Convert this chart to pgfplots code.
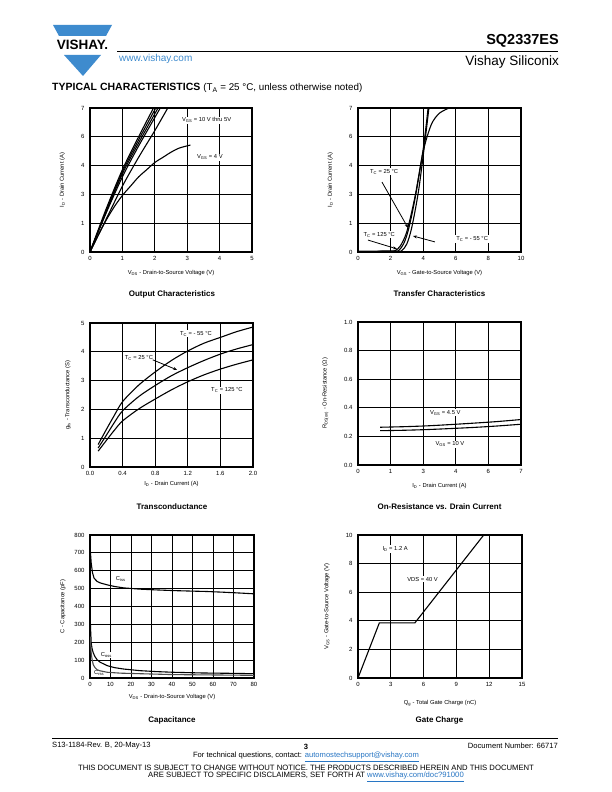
\documentclass[border=0pt]{standalone}
\usepackage{pgfplots}
\pgfplotsset{compat=1.18}
\usepackage{fontspec}
\setmainfont{Liberation Sans}
\usetikzlibrary{arrows.meta}
\definecolor{vishayblue}{RGB}{62,139,206}
\definecolor{linkblue}{RGB}{40,118,196}
\newcommand{\ann}{\fontsize{5.8}{7}\selectfont}
\pgfplotsset{
  vs/.style={scale only axis, anchor=south west,
    axis line style={line width=1.1pt},
    grid=major, major grid style={black, line width=0.8pt},
    major tick length=0pt,
    tick label style={font=\fontsize{6}{7}\selectfont},
    label style={font=\fontsize{5.8}{7}\selectfont},
    /pgf/number format/assume math mode=true,
    xticklabel style={yshift=-1pt},
    yticklabel style={xshift=-2pt},
    cycle list={black,solid,line width=1.1pt,mark=none,smooth\\},
    clip=true},
}
\begin{document}
\begin{tikzpicture}[x=1pt,y=1pt]
\useasboundingbox (0,0) rectangle (612,792);
\fill[white] (0,0) rectangle (612,792);
% ---------- header ----------
\fill[vishayblue] (53,767) -- (112,767) -- (106,756) -- (59,756) -- cycle;
\fill[vishayblue] (64,737) -- (101,737) -- (83,716) -- cycle;
\node[font=\fontsize{13.5}{13.5}\selectfont\bfseries, inner sep=0] at (82.5,747) {VISHAY.};
\node[anchor=west, font=\fontsize{10}{11}\selectfont, text=vishayblue, inner sep=0] at (119,733) {www.vishay.com};
\draw[line width=0.8pt] (117,741) -- (558,741);
\node[anchor=east, font=\fontsize{14.5}{15}\selectfont\bfseries, inner sep=0] at (559,751) {SQ2337ES};
\node[anchor=east, font=\fontsize{13.5}{14}\selectfont, inner sep=0] at (559,730) {Vishay Siliconix};
\node[anchor=west, inner sep=0] at (52,704) {\fontsize{10.5}{11}\selectfont\textbf{TYPICAL CHARACTERISTICS} \fontsize{9.8}{11}\selectfont(T\textsubscript{A} = 25 °C, unless otherwise noted)};
% ---------- footer ----------
\draw[line width=0.8pt] (52,54) -- (558,54);
\node[anchor=west, font=\fontsize{7.6}{8}\selectfont, inner sep=0] at (52,46) {S13-1184-Rev. B, 20-May-13};
\node[font=\fontsize{7.6}{8}\selectfont\bfseries, inner sep=0] at (306,45.5) {3};
\node[anchor=east, font=\fontsize{7.6}{8}\selectfont, inner sep=0] at (558,46) {Document Number: 66717};
\node[font=\fontsize{7.6}{8}\selectfont, inner sep=0] at (306,35) {For technical questions, contact: \textcolor{linkblue}{\underline{automostechsupport@vishay.com}}};
\node[font=\fontsize{7.7}{8}\selectfont, inner sep=0] at (306,24) {THIS DOCUMENT IS SUBJECT TO CHANGE WITHOUT NOTICE. THE PRODUCTS DESCRIBED HEREIN AND THIS DOCUMENT};
\node[font=\fontsize{7.7}{8}\selectfont, inner sep=0] at (306,15) {ARE SUBJECT TO SPECIFIC DISCLAIMERS, SET FORTH AT \textcolor{linkblue}{\underline{www.vishay.com/doc?91000}}};
% ---------- chart titles ----------
\begin{scope}[every node/.style={font=\fontsize{8}{9}\selectfont\bfseries}]
\node at (172,498) {Output Characteristics};
\node at (439.5,498) {Transfer Characteristics};
\node at (172,285) {Transconductance};
\node at (439.5,285) {On-Resistance vs. Drain Current};
\node at (172,72) {Capacitance};
\node at (439.5,72) {Gate Charge};
\end{scope}
% ---------- 1: Output characteristics ----------
\begin{axis}[vs, at={(90pt,540pt)}, width=162pt, height=144pt,
  xmin=0, xmax=5, ymin=0, ymax=7, xtick={0,1,2,3,4,5},
  ytick={0,1.4,2.8,4.2,5.6,7}, yticklabels={0,1,3,4,6,7},
  xlabel={V\textsubscript{DS} - Drain-to-Source Voltage (V)},
  ylabel={I\textsubscript{D} - Drain Current (A)},
  xlabel style={at={(axis description cs:0.5,-0.146)}, anchor=center},
  ylabel style={at={(axis description cs:-0.17,0.5)}, anchor=center}]
\addplot coordinates {(0,0)(0.5,2.1)(1,4.0)(1.5,5.6)(1.96,7)};
\addplot coordinates {(0,0)(0.5,2.0)(1,3.9)(1.5,5.45)(2.03,7)};
\addplot coordinates {(0,0)(0.5,1.95)(1,3.8)(1.5,5.3)(2.1,7)};
\addplot coordinates {(0,0)(0.5,1.9)(1,3.65)(1.5,5.15)(2.17,7)};
\addplot coordinates {(0,0)(0.5,1.6)(1,3.2)(1.5,4.6)(2,5.9)(2.4,7)};
\addplot coordinates {(0,0)(0.25,0.8)(0.5,1.55)(0.75,2.2)(1,2.75)(1.25,3.2)(1.5,3.65)(1.75,4.0)(2,4.35)(2.25,4.6)(2.5,4.85)(2.75,5.05)(3.1,5.2)};
\node[font=\ann, fill=white, inner sep=1pt] at (axis cs:3.6,6.4) {V\textsubscript{GS} = 10 V thru 5V};
\node[font=\ann, fill=white, inner sep=1pt] at (axis cs:3.7,4.6) {V\textsubscript{GS} = 4 V};
\end{axis}
% ---------- 2: Transfer characteristics ----------
\begin{axis}[vs, at={(358pt,540pt)}, width=163pt, height=144pt,
  xmin=0, xmax=10, ymin=0, ymax=7, xtick={0,2,4,6,8,10},
  ytick={0,1.4,2.8,4.2,5.6,7}, yticklabels={0,1,3,4,6,7},
  xlabel={V\textsubscript{GS} - Gate-to-Source Voltage (V)},
  ylabel={I\textsubscript{D} - Drain Current (A)},
  xlabel style={at={(axis description cs:0.5,-0.146)}, anchor=center},
  ylabel style={at={(axis description cs:-0.17,0.5)}, anchor=center}]
\addplot coordinates {(0,0.03)(2.0,0.04)(2.3,0.08)(2.6,0.3)(3,1.0)(3.5,2.7)(4,4.9)(4.5,6.2)(5,6.75)(5.6,7.0)};
\addplot coordinates {(0,0.03)(2.2,0.04)(2.5,0.08)(2.8,0.4)(3.1,1.1)(3.5,2.6)(4,5.0)(4.3,7.0)};
\addplot coordinates {(0,0.03)(2.4,0.04)(2.7,0.08)(3.0,0.4)(3.3,1.2)(3.7,2.9)(4.05,5.0)(4.35,7.0)};
\node[font=\ann, fill=white, inner sep=1pt] at (axis cs:1.6,3.9) {T\textsubscript{C} = 25 °C};
\draw[-{Stealth[length=4pt]}, line width=0.8pt] (axis cs:1.47,3.4) -- (axis cs:3.07,1.17);
\node[font=\ann, fill=white, inner sep=1pt] at (axis cs:1.3,0.85) {T\textsubscript{C} = 125 °C};
\draw[-{Stealth[length=4pt]}, line width=0.8pt] (axis cs:0.61,0.58) -- (axis cs:2.39,0.15);
\node[font=\ann, fill=white, inner sep=1pt] at (axis cs:7.0,0.63) {T\textsubscript{C} = - 55 °C};
\draw[-{Stealth[length=4pt]}, line width=0.8pt] (axis cs:4.72,0.49) -- (axis cs:3.37,0.78);
\end{axis}
% ---------- 3: Transconductance ----------
\begin{axis}[vs, at={(90pt,325pt)}, width=163pt, height=144pt,
  xmin=0, xmax=2, ymin=0, ymax=5, xtick={0,0.4,0.8,1.2,1.6,2.0},
  xticklabels={0.0,0.4,0.8,1.2,1.6,2.0}, ytick={0,1,2,3,4,5},
  xlabel={I\textsubscript{D} - Drain Current (A)},
  ylabel={g\textsubscript{fs} - Transconductance (S)},
  xlabel style={at={(axis description cs:0.5,-0.12)}, anchor=center},
  ylabel style={at={(axis description cs:-0.135,0.5)}, anchor=center}]
\addplot coordinates {(0.1,0.78)(0.2,1.3)(0.3,1.8)(0.4,2.27)(0.6,2.85)(0.8,3.3)(1.0,3.7)(1.2,4.03)(1.4,4.3)(1.6,4.5)(1.8,4.7)(2.0,4.86)};
\addplot coordinates {(0.1,0.66)(0.2,1.1)(0.3,1.55)(0.4,1.95)(0.6,2.45)(0.8,2.83)(1.0,3.17)(1.2,3.45)(1.4,3.7)(1.6,3.92)(1.8,4.1)(2.0,4.25)};
\addplot coordinates {(0.1,0.55)(0.2,0.92)(0.3,1.28)(0.4,1.6)(0.6,2.02)(0.8,2.36)(1.0,2.68)(1.2,2.96)(1.4,3.2)(1.6,3.4)(1.8,3.57)(2.0,3.72)};
\node[font=\ann, fill=white, inner sep=1pt] at (axis cs:1.3,4.62) {T\textsubscript{C} = - 55 °C};
\node[font=\ann, fill=white, inner sep=1pt] at (axis cs:0.6,3.8) {T\textsubscript{C} = 25 °C};
\draw[-{Stealth[length=4pt]}, line width=0.8pt] (axis cs:0.77,3.72) -- (axis cs:1.07,3.37);
\node[font=\ann, fill=white, inner sep=1pt] at (axis cs:1.68,2.67) {T\textsubscript{C} = 125 °C};
\end{axis}
% ---------- 4: On-resistance ----------
\begin{axis}[vs, at={(358pt,327pt)}, width=163pt, height=143pt,
  xmin=0, xmax=7, ymin=0, ymax=1,
  xtick={0,1.4,2.8,4.2,5.6,7}, xticklabels={0,1,3,4,6,7},
  ytick={0,0.2,0.4,0.6,0.8,1.0}, yticklabels={0.0,0.2,0.4,0.6,0.8,1.0},
  xlabel={I\textsubscript{D} - Drain Current (A)},
  ylabel={R\textsubscript{DS(on)} - On-Resistance (Ω)},
  xlabel style={at={(axis description cs:0.5,-0.146)}, anchor=center},
  ylabel style={at={(axis description cs:-0.2,0.5)}, anchor=center}]
\addplot coordinates {(0.95,0.264)(2,0.268)(3,0.274)(4,0.283)(5,0.293)(6,0.304)(7,0.318)};
\addplot coordinates {(0.95,0.24)(2,0.243)(3,0.248)(4,0.255)(5,0.263)(6,0.273)(7,0.285)};
\node[font=\ann, fill=white, inner sep=1pt] at (axis cs:3.75,0.364) {V\textsubscript{GS} = 4.5 V};
\node[font=\ann, fill=white, inner sep=1pt] at (axis cs:3.95,0.145) {V\textsubscript{GS} = 10 V};
\end{axis}
% ---------- 5: Capacitance ----------
\begin{axis}[vs, at={(90pt,114pt)}, width=164pt, height=143pt,
  xmin=0, xmax=80, ymin=0, ymax=800,
  xtick={0,10,...,80}, ytick={0,100,...,800},
  xlabel={V\textsubscript{DS} - Drain-to-Source Voltage (V)},
  ylabel={C - Capacitance (pF)},
  xlabel style={at={(axis description cs:0.5,-0.13)}, anchor=center},
  ylabel style={at={(axis description cs:-0.165,0.5)}, anchor=center}]
\addplot+[sharp plot] coordinates {(0,725)(0.3,690)(0.6,642)(1.2,590)(2,558)(3.5,540)(5,532)(8.4,521)(12,512)(16.5,504)(24.5,497)(32,493)(40.7,489)(50,486)(56.9,484)(65,480)(72,476)(80,471)};
\addplot+[sharp plot] coordinates {(0,363)(0.3,270)(0.6,195)(1,165)(1.6,140)(2.5,118)(3.5,102)(5,88)(8.4,69)(12,58)(16.5,50)(24.5,41)(32,36)(40.7,32)(55,28)(70,26)(80,24)};
\addplot+[sharp plot, gray!60!black] coordinates {(0.15,232)(0.3,190)(0.6,140)(1,105)(1.6,74)(2.5,57)(3.5,46)(5,40)(8.4,32)(15,27)(24.5,24)(40.7,19)(60,17)(80,15)};
\node[font=\ann, fill=white, inner sep=1pt] at (axis cs:15,556) {C\textsubscript{iss}};
\node[font=\ann, fill=white, inner sep=0.5pt] at (axis cs:8,130) {C\textsubscript{oss}};
\node[font=\ann, inner sep=0.5pt] at (axis cs:4.5,27) {C\textsubscript{rss}};
\end{axis}
% ---------- 6: Gate charge ----------
\begin{axis}[vs, at={(358pt,114pt)}, width=164pt, height=143pt,
  xmin=0, xmax=15, ymin=0, ymax=10,
  xtick={0,3,...,15}, ytick={0,2,...,10},
  xlabel={Q\textsubscript{g} - Total Gate Charge (nC)},
  ylabel={V\textsubscript{GS} - Gate-to-Source Voltage (V)},
  xlabel style={at={(axis description cs:0.5,-0.18)}, anchor=center},
  ylabel style={at={(axis description cs:-0.19,0.5)}, anchor=center}]
\addplot+[sharp plot] coordinates {(0,0)(1.95,3.85)(5.2,3.85)(11.5,10)};
\node[font=\ann, fill=white, inner sep=1pt] at (axis cs:3.4,9.02) {I\textsubscript{D} = 1.2 A};
\node[font=\ann, fill=white, inner sep=1pt] at (axis cs:5.9,6.92) {VDS = 40 V};
\end{axis}
\end{tikzpicture}
\end{document}
